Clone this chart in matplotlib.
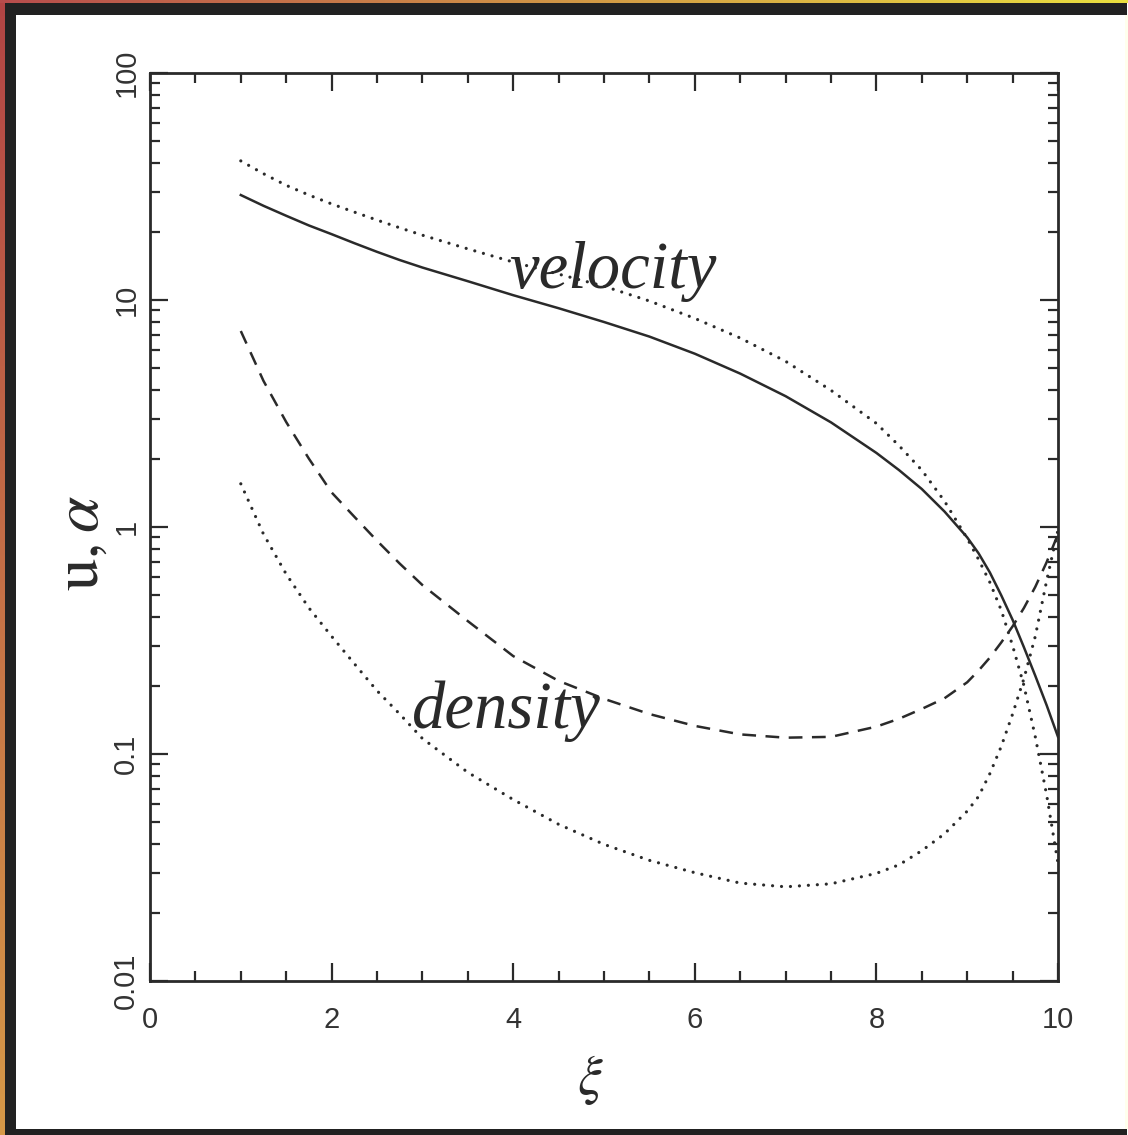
import numpy as np
import matplotlib.pyplot as plt
from matplotlib.ticker import MultipleLocator, LogLocator, FixedFormatter, FixedLocator, NullFormatter

plt.rcParams['font.family'] = ['Liberation Sans', 'DejaVu Sans']
plt.rcParams['mathtext.fontset'] = 'stix'

# xi grid and the four profiles
xi = [1.0, 1.25, 1.5, 1.75, 2.0, 2.25, 2.5, 2.75, 3.0, 3.5, 4.0, 4.5, 5.0, 5.5,
      6.0, 6.5, 7.0, 7.5, 8.0, 8.25, 8.5, 8.75, 9.0, 9.125, 9.25, 9.375, 9.5,
      9.625, 9.75, 9.875, 10.0]
u_solid = [29.0, 26.0, 23.5, 21.3, 19.5, 17.8, 16.3, 15.0, 13.9, 12.1, 10.5, 9.2,
           8.0, 6.9, 5.8, 4.74, 3.77, 2.89, 2.12, 1.78, 1.47, 1.17, 0.90, 0.766,
           0.63, 0.50, 0.39, 0.295, 0.221, 0.164, 0.119]
u_dotted = [41.0, 36.0, 32.0, 29.0, 26.5, 24.4, 22.5, 20.8, 19.3, 16.8, 14.7, 13.0,
            11.5, 9.9, 8.3, 6.8, 5.37, 4.0, 2.86, 2.28, 1.78, 1.30, 0.89, 0.72,
            0.57, 0.43, 0.30, 0.20, 0.119, 0.066, 0.033]
a_dashed = [7.3, 4.4, 2.9, 2.0, 1.42, 1.11, 0.87, 0.69, 0.555, 0.385, 0.27, 0.21,
            0.175, 0.15, 0.133, 0.122, 0.118, 0.119, 0.132, 0.143, 0.158, 0.176,
            0.207, 0.233, 0.266, 0.31, 0.365, 0.44, 0.545, 0.70, 0.93]
a_dotted = [1.55, 0.93, 0.62, 0.44, 0.33, 0.25, 0.19, 0.15, 0.117, 0.083, 0.063,
            0.049, 0.040, 0.034, 0.030, 0.027, 0.026, 0.0268, 0.0298, 0.0325,
            0.0375, 0.0445, 0.056, 0.065, 0.082, 0.108, 0.15, 0.215, 0.33, 0.58,
            0.97]

xticks = [0, 2, 4, 6, 8, 10]
yticks = [0.01, 0.1, 1, 10, 100]
ylabels = ['0.01', '0.1', '1', '10', '100']

W, H = 1128, 1135
fig = plt.figure(figsize=(W / 100, H / 100), dpi=100)

# dark picture frame with a coloured rim
frame = np.ones((H, W, 3))
t = np.linspace(0, 1, H)[:, None, None]
frame[:, 0:5] = (1 - t) * np.array([0.70, 0.27, 0.27]) + t * np.array([0.84, 0.60, 0.28])
s = np.linspace(0, 1, W)[None, :, None]
frame[0:3, :] = (1 - s) * np.array([0.72, 0.30, 0.30]) + s * np.array([0.92, 0.88, 0.25])
dark = np.array([0.13, 0.13, 0.13])
frame[3:, 5:16] = dark
frame[3:15, 5:1127] = dark
frame[1129:, 5:1127] = dark
frame[15:1129, 1125:] = [1.0, 1.0, 0.93]
bg = fig.add_axes([0, 0, 1, 1], zorder=-5)
bg.imshow(frame, aspect='auto', interpolation='nearest')
bg.axis('off')

ax = fig.add_axes([150 / W, 1 - 981 / H, 908 / W, 908 / H])
ink = '#2a2a2a'
ax.plot(xi, u_solid, color=ink, lw=1.8)
ax.plot(xi, u_dotted, color=ink, lw=2.3, linestyle=(0, (0.01, 2.8)), dash_capstyle='round')
ax.plot(xi, a_dashed, color=ink, lw=1.8, linestyle=(0, (5.5, 3.8)))
ax.plot(xi, a_dotted, color=ink, lw=2.3, linestyle=(0, (0.01, 2.8)), dash_capstyle='round')

ax.set_yscale('log')
ax.set_xlim(0, 10)
ax.set_ylim(0.01, 100)

ax.xaxis.set_major_locator(FixedLocator(xticks))
ax.xaxis.set_minor_locator(MultipleLocator(0.5))
ax.yaxis.set_major_locator(FixedLocator(yticks))
ax.yaxis.set_major_formatter(FixedFormatter(ylabels))
ax.yaxis.set_minor_locator(LogLocator(base=10, subs=np.arange(2, 10)))
ax.yaxis.set_minor_formatter(NullFormatter())

for sp in ax.spines.values():
    sp.set_linewidth(2.0)
    sp.set_color(ink)
ax.tick_params(which='both', direction='in', top=True, right=True, color=ink,
               labelcolor='#333333', labelsize=21)
ax.tick_params(which='major', length=13, width=1.6)
ax.tick_params(which='minor', length=7, width=1.6)
ax.tick_params(axis='x', pad=18)
ax.tick_params(axis='y', pad=7, labelrotation=90)
for lab in ax.get_yticklabels():
    lab.set_va('center')

ax.set_xlabel(r'$\xi$', fontsize=40, color=ink, labelpad=14)
ax.xaxis.label.set_x(0.485)
ax.set_ylabel(r'$\mathrm{u},\alpha$', fontsize=47, color=ink)
ax.yaxis.set_label_coords(-0.043, 0.482)

ax.text(5.1, 11.3, 'velocity', family='Liberation Serif', style='italic',
        fontsize=48, color=ink, ha='center', va='baseline')
ax.text(3.93, 0.13, 'density', family='Liberation Serif', style='italic',
        fontsize=48, color=ink, ha='center', va='baseline')

fig.savefig('out.png', dpi=100)
